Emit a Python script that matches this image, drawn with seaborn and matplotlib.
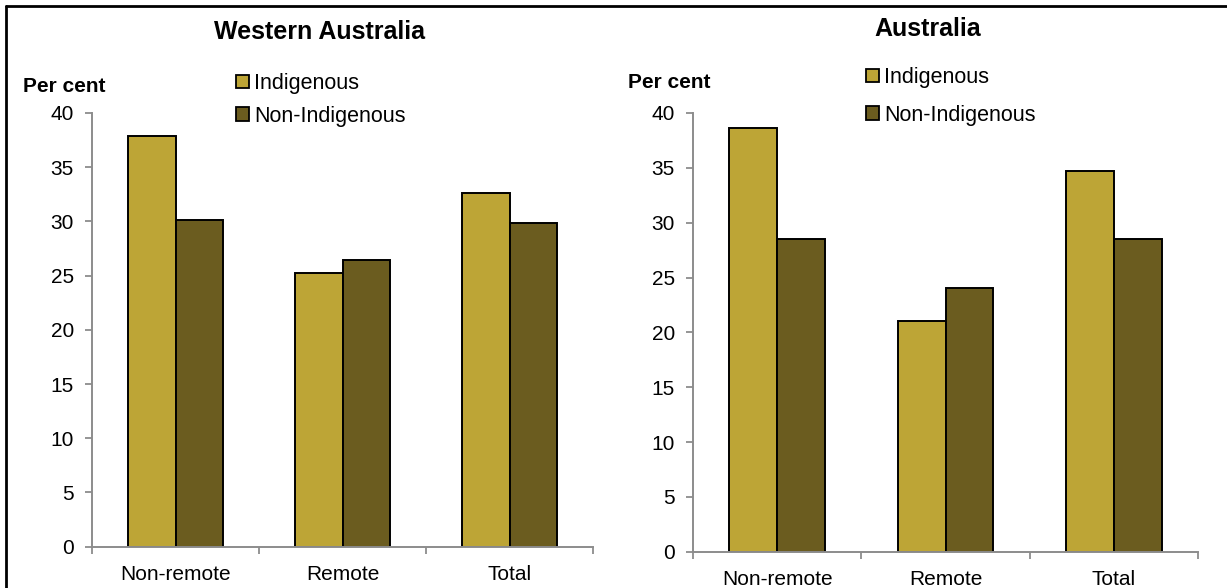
import matplotlib
matplotlib.use("Agg")
import matplotlib.pyplot as plt
from matplotlib.patches import Patch
from matplotlib.lines import Line2D
from matplotlib.ticker import FixedLocator, NullFormatter
import seaborn as sns
import pandas as pd

# Data
regions = ["Non-remote", "Remote", "Total"]
groups = ["Indigenous", "Non-Indigenous"]
wa_indigenous = [37.9, 25.2, 32.6]
wa_non_indigenous = [30.1, 26.4, 29.9]
aus_indigenous = [38.6, 21.0, 34.7]
aus_non_indigenous = [28.5, 24.0, 28.5]
panel_titles = ["Western Australia", "Australia"]
y_ticks = [0, 5, 10, 15, 20, 25, 30, 35, 40]

colors = ["#BDA536", "#6B5C1F"]
axis_grey = "#8C8C8C"

sns.set_theme(style="white")
plt.rcParams["font.family"] = ["Liberation Sans", "DejaVu Sans"]
plt.rcParams["text.color"] = "black"
plt.rcParams["xtick.color"] = "black"
plt.rcParams["ytick.color"] = "black"

W, H = 1227, 588
fig = plt.figure(figsize=(W / 100, H / 100), dpi=100)


def frac(x0, y0, x1, y1):
    """Pixel box (left, top, right, bottom) to figure fractions."""
    return [x0 / W, 1 - y1 / H, (x1 - x0) / W, (y1 - y0) / H]


def panel(rect, ind, non, title, title_xy, label_xy, legend_xy):
    ax = fig.add_axes(rect)
    df = pd.DataFrame({
        "region": regions * 2,
        "group": [groups[0]] * 3 + [groups[1]] * 3,
        "value": list(ind) + list(non),
    })
    sns.barplot(data=df, x="region", y="value", hue="group", order=regions,
                hue_order=groups, palette=colors, width=0.57,
                edgecolor="black", linewidth=1.4, saturation=1,
                errorbar=None, legend=False, ax=ax)
    ax.set_xlim(-0.5, 2.5)
    ax.set_ylim(0, 40)
    ax.set_xlabel("")
    ax.set_ylabel("")
    for s in ["top", "right"]:
        ax.spines[s].set_visible(False)
    for s in ["left", "bottom"]:
        ax.spines[s].set_color(axis_grey)
        ax.spines[s].set_linewidth(1.4)
    ax.set_yticks(y_ticks)
    ax.set_yticklabels([str(t) for t in y_ticks])
    ax.tick_params(axis="y", which="major", left=True, length=5, width=1.3,
                   color=axis_grey, labelsize=15, pad=8, labelcolor="black")
    # category labels sit between boundary ticks
    ax.set_xticks([0, 1, 2])
    ax.set_xticklabels(regions)
    ax.tick_params(axis="x", which="major", bottom=False, length=0,
                   labelsize=15, pad=13, labelcolor="black")
    ax.xaxis.set_minor_locator(FixedLocator([-0.5, 0.5, 1.5, 2.5]))
    ax.xaxis.set_minor_formatter(NullFormatter())
    ax.tick_params(axis="x", which="minor", bottom=True, length=5, width=1.3,
                   color=axis_grey)
    ax.patch.set_alpha(0)

    fig.text(title_xy[0] / W, 1 - title_xy[1] / H, title, ha="center",
             va="center", fontsize=18, fontweight="bold", color="black")
    fig.text(label_xy[0] / W, 1 - label_xy[1] / H, "Per cent", ha="left",
             va="center", fontsize=15, fontweight="bold", color="black")
    handles = [Patch(facecolor=c, edgecolor="black", linewidth=1.3) for c in colors]
    leg = ax.legend(handles, groups, loc="center left",
                    bbox_to_anchor=(legend_xy[0] / W, 1 - legend_xy[1] / H),
                    bbox_transform=fig.transFigure, frameon=False, fontsize=15.5,
                    handlelength=0.6, handleheight=0.6, handletextpad=0.25,
                    labelspacing=legend_xy[2], borderpad=0, borderaxespad=0)
    for t in leg.get_texts():
        t.set_color("black")
    return ax


panel(frac(92, 113, 593, 546.7), wa_indigenous, wa_non_indigenous,
      panel_titles[0], (320, 32), (23, 87), (236, 100, 0.55))
panel(frac(693, 113, 1198, 551.7), aus_indigenous, aus_non_indigenous,
      panel_titles[1], (928, 29), (628, 82), (866, 96.5, 0.78))

# outer frame
fig.add_artist(Line2D([5.5 / W, 5.5 / W], [0, 1 - 5.5 / H], color="black",
                      linewidth=2, transform=fig.transFigure))
fig.add_artist(Line2D([5.5 / W, 1], [1 - 5.5 / H, 1 - 5.5 / H], color="black",
                      linewidth=2, transform=fig.transFigure))

fig.savefig("out.png", dpi=100, facecolor="white")
